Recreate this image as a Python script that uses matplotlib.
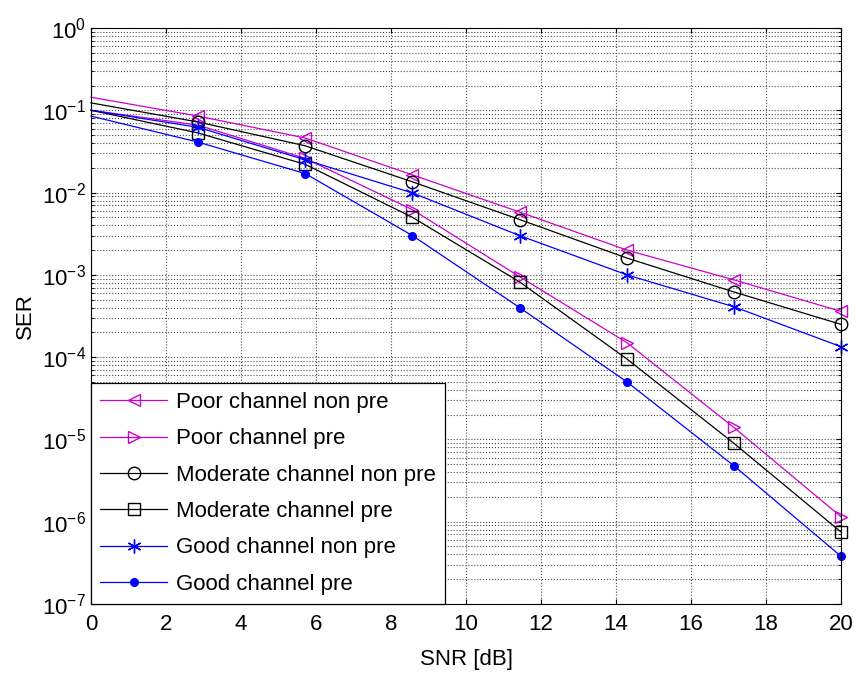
import matplotlib
matplotlib.use("Agg")
import matplotlib.pyplot as plt
import numpy as np

plt.rcParams['font.family'] = ['Liberation Sans', 'DejaVu Sans']
plt.rcParams['mathtext.fontset'] = 'custom'
plt.rcParams['mathtext.rm'] = 'Liberation Sans'
plt.rcParams['mathtext.it'] = 'Liberation Sans'

# SNR points (dB)
snr = [0, 2.857, 5.714, 8.571, 11.43, 14.29, 17.14, 20]

# SER curves
poor_non_pre = [0.144, 0.085, 0.046, 0.0164, 0.0058, 0.0020, 8.7e-4, 3.6e-4]
poor_pre = [0.10, 0.066, 0.026, 0.0062, 9.5e-4, 1.5e-4, 1.4e-5, 1.15e-6]
mod_non_pre = [0.123, 0.072, 0.037, 0.0135, 0.0047, 0.0016, 6.2e-4, 2.5e-4]
mod_pre = [0.10, 0.053, 0.022, 0.0050, 8.2e-4, 9.5e-5, 9.0e-6, 7.5e-7]
good_non_pre = [0.10, 0.062, 0.025, 0.0099, 0.0030, 1.0e-3, 4.1e-4, 1.34e-4]
good_pre = [0.085, 0.041, 0.017, 0.0030, 4.0e-4, 5.0e-5, 4.8e-6, 3.8e-7]

labels = ["Poor channel non pre", "Poor channel pre",
          "Moderate channel non pre", "Moderate channel pre",
          "Good channel non pre", "Good channel pre"]

fig = plt.figure(figsize=(8.56, 6.76), dpi=100)
ax = fig.add_axes([0.1063, 0.1065, 0.8762, 0.8521])

mag = '#cc00cc'
me = slice(1, None)  # no marker at 0 dB
kw = dict(lw=0.9, markevery=me, clip_on=False)
ax.semilogy(snr, poor_non_pre, color=mag, marker='<', ms=9, mfc='none', label=labels[0], **kw)
ax.semilogy(snr, poor_pre, color=mag, marker='>', ms=9, mfc='none', label=labels[1], **kw)
ax.semilogy(snr, mod_non_pre, color='k', marker='o', ms=9, mfc='none', label=labels[2], **kw)
ax.semilogy(snr, mod_pre, color='k', marker='s', ms=9, mfc='none', label=labels[3], **kw)
ax.semilogy(snr, good_non_pre, color='b', marker=(6, 2, 0), ms=10, mew=1.0, label=labels[4], **kw)
ax.semilogy(snr, good_pre, color='b', marker='o', ms=5.5, label=labels[5], **kw)

ax.set_xlim(0, 20)
ax.set_ylim(1e-7, 1)
ax.set_xticks(np.arange(0, 21, 2))
ax.set_yticks([10.0**k for k in range(-7, 1)])
ax.set_yticklabels([r'$10^{%d}$' % k for k in range(-7, 1)])
ax.grid(True, which='major', linestyle=':', color='0.3', lw=0.8)
ax.grid(True, which='minor', axis='y', linestyle=':', color='0.3', lw=0.8)
ax.tick_params(which='both', direction='in', top=True, right=True, labelsize=16)
ax.tick_params(axis='x', which='minor', bottom=False, top=False)
ax.tick_params(axis='x', pad=7)
ax.set_xlabel("SNR [dB]", fontsize=16, labelpad=10)
ax.set_ylabel("SER", fontsize=16)

leg = ax.legend(loc='lower left', fontsize=16, fancybox=False, framealpha=1,
                edgecolor='k', borderaxespad=0, handlelength=3.0, handletextpad=0.4,
                labelspacing=0.69, borderpad=0.42)
leg.get_frame().set_linewidth(0.9)

fig.savefig("out.png", dpi=100)
